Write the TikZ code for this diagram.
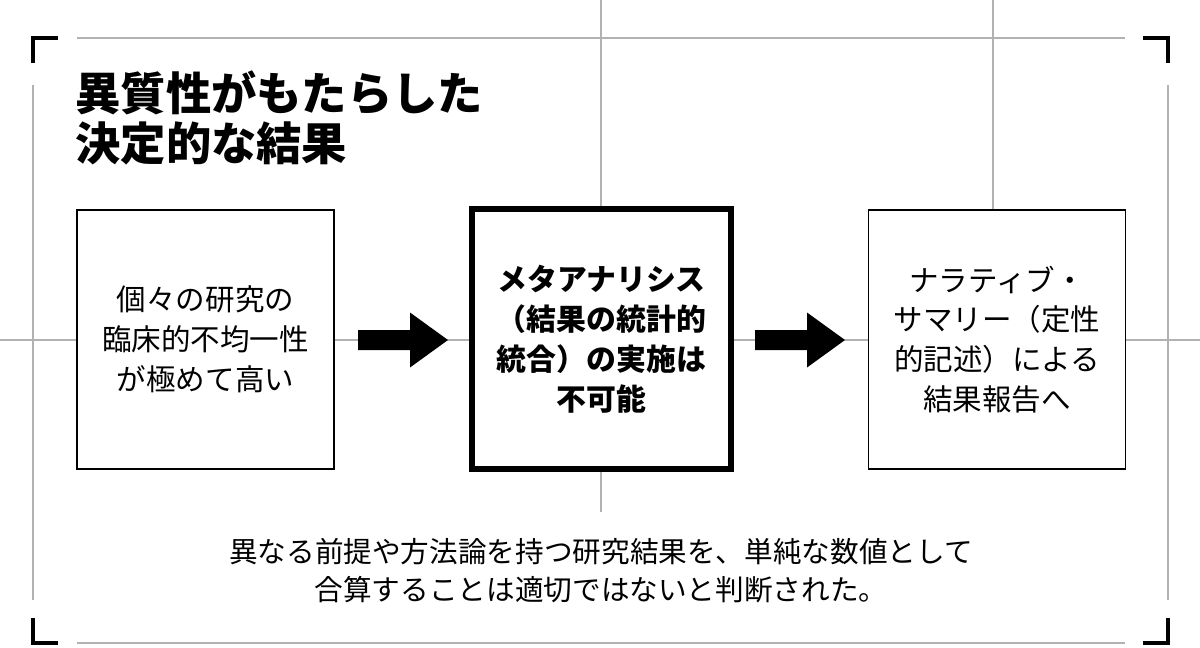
\documentclass[tikz,border=0pt]{standalone}
\usepackage{fontspec}
\setmainfont{Noto Sans CJK JP}
\usetikzlibrary{positioning}
\tikzset{
  guide/.style={draw=black!30, line width=0.6pt},
  corner/.style={line width=2pt},
  stage/.style={draw, line width=1pt, fill=white, minimum width=5.14cm, minimum height=5.18cm, align=center, font=\fontsize{16.8}{22.7}\selectfont},
  key/.style={stage, line width=3.4pt, minimum width=5.2cm, minimum height=5.2cm, font=\bfseries\fontsize{17}{22.7}\selectfont},
  go/.style={fill=black}
}
\newcommand\goarrow[2]{% start x, y
  \fill[go] (#1,#2-10) -- ++(52,0) -- ++(0,-17.5) -- ++(38,27.5) -- ++(-38,27.5) -- ++(0,-17.5) -- ++(-52,0) -- cycle;}
\begin{document}
\begin{tikzpicture}[x=0.02cm,y=-0.02cm]
\useasboundingbox (0,0) rectangle (1200,647);
% guide lines
\draw[guide] (77,38) -- (1125,38);
\draw[guide] (77,643) -- (1125,643);
\draw[guide] (0,340) -- (1200,340);
\draw[guide] (601,0) -- (601,512);
\draw[guide] (993,0) -- (993,340);
\draw[guide] (33,85) -- (33,600);
\draw[guide] (1168,85) -- (1168,600);
% corners
\draw[corner] (33,63) -- (33,38) -- (58,38);
\draw[corner] (1143,38) -- (1168,38) -- (1168,63);
\draw[corner] (33,618) -- (33,643) -- (58,643);
\draw[corner] (1143,643) -- (1168,643) -- (1168,618);
% title
\node[anchor=north west, align=left, font=\bfseries\fontsize{25.8}{28.4}\selectfont, inner sep=0pt] (title) at (75,70) {異質性がもたらした\\決定的な結果};
% boxes
\node[stage] (cause) at (205.5,339.5) {個々の研究の\\臨床的不均一性\\が極めて高い};
\node[key] (meta) at (601.5,339) {メタアナリシス\\（結果の統計的\\統合）の実施は\\不可能};
\node[stage] (result) at (997,339.5) {ナラティブ・\\サマリー（定性\\的記述）による\\結果報告へ};
\goarrow{358}{340}
\goarrow{755}{340}
% note
\node[align=center, font=\fontsize{16.3}{21.6}\selectfont] (note) at (601,571) {異なる前提や方法論を持つ研究結果を、単純な数値として\\合算することは適切ではないと判断された。};
\end{tikzpicture}
\end{document}
